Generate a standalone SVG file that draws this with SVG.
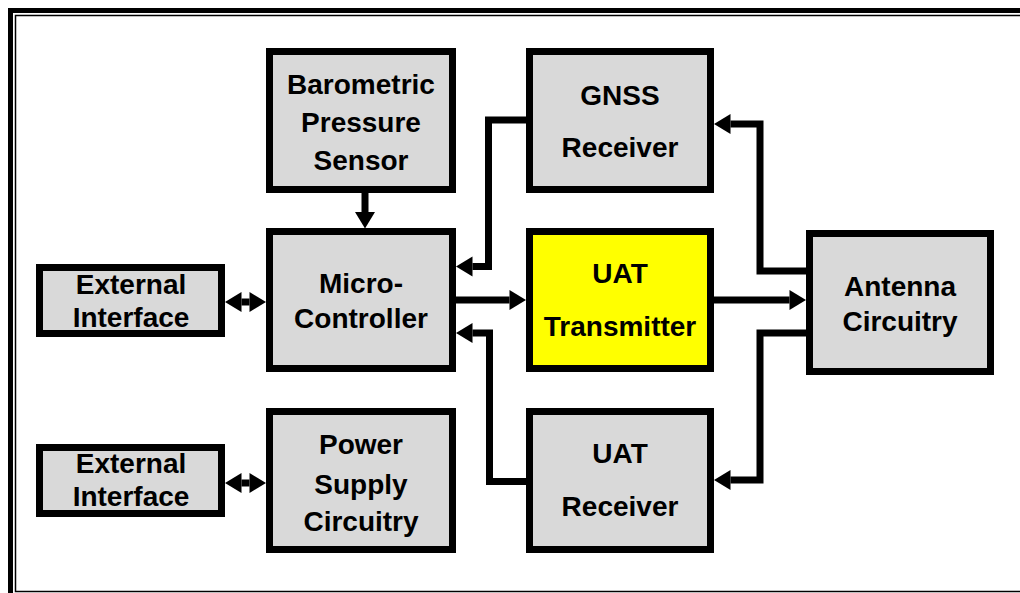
<svg xmlns="http://www.w3.org/2000/svg" width="1020" height="593" viewBox="0 0 1020 593">
<style>
.box{fill:#d9d9d9;stroke:#000;stroke-width:7}
.hl{fill:#ffff00}
.lbl{font-family:"Liberation Sans",Arial,sans-serif;font-weight:bold;font-size:28px;fill:#000;text-anchor:middle}
.con{fill:none;stroke:#000;stroke-width:7;stroke-linejoin:miter}
</style>
<defs>
<marker id="ah" markerUnits="userSpaceOnUse" markerWidth="17" markerHeight="20" refX="0" refY="10" orient="auto-start-reverse" overflow="visible">
<path d="M0,0 L16.5,10 L0,20 z" fill="#000"/>
</marker>
</defs>
<rect width="1020" height="593" fill="#fff"/>
<g id="frame">
<rect x="10.5" y="10.5" width="1030" height="600" fill="none" stroke="#000" stroke-width="5"/>
<rect x="15.5" y="15.5" width="1020" height="576" fill="none" stroke="#000" stroke-width="1.5"/>
</g>
<g id="connectors">
<path class="con" d="M365,193 V212" marker-end="url(#ah)"/>
<path class="con" d="M241.5,302 H249.5" marker-start="url(#ah)" marker-end="url(#ah)"/>
<path class="con" d="M241.5,483 H249.5" marker-start="url(#ah)" marker-end="url(#ah)"/>
<path class="con" d="M456,300 H509.5" marker-end="url(#ah)"/>
<path class="con" d="M714,300 H789.5" marker-end="url(#ah)"/>
<path class="con" d="M526,120 H488.5 V266.5 H472.5" marker-end="url(#ah)"/>
<path class="con" d="M526,481.5 H489.5 V333 H472.5" marker-end="url(#ah)"/>
<path class="con" d="M806,271 H760 V124 H730.5" marker-end="url(#ah)"/>
<path class="con" d="M806,333 H760 V480 H730.5" marker-end="url(#ah)"/>
</g>
<g id="baro">
<rect class="box" x="269.5" y="51.5" width="183" height="138"/>
<text class="lbl" x="361" y="94">Barometric</text>
<text class="lbl" x="361" y="132">Pressure</text>
<text class="lbl" x="361" y="170">Sensor</text>
</g>
<g id="gnss">
<rect class="box" x="529.5" y="51.5" width="181" height="138"/>
<text class="lbl" x="620" y="105">GNSS</text>
<text class="lbl" x="620" y="157">Receiver</text>
</g>
<g id="micro">
<rect class="box" x="269.5" y="231.5" width="183" height="137"/>
<text class="lbl" x="361" y="293">Micro-</text>
<text class="lbl" x="361" y="328">Controller</text>
</g>
<g id="uattx">
<rect class="box hl" x="529.5" y="231.5" width="181" height="137"/>
<text class="lbl" x="620" y="283">UAT</text>
<text class="lbl" x="620" y="336">Transmitter</text>
</g>
<g id="antenna">
<rect class="box" x="809.5" y="233.5" width="181" height="138"/>
<text class="lbl" x="900" y="296">Antenna</text>
<text class="lbl" x="900" y="331">Circuitry</text>
</g>
<g id="ext1">
<rect class="box" x="39.5" y="267.5" width="182" height="66"/>
<text class="lbl" x="131" y="294">External</text>
<text class="lbl" x="131" y="327">Interface</text>
</g>
<g id="ext2">
<rect class="box" x="39.5" y="447.5" width="182" height="66"/>
<text class="lbl" x="131" y="473">External</text>
<text class="lbl" x="131" y="506">Interface</text>
</g>
<g id="power">
<rect class="box" x="269.5" y="411.5" width="183" height="138"/>
<text class="lbl" x="361" y="454">Power</text>
<text class="lbl" x="361" y="494">Supply</text>
<text class="lbl" x="361" y="531">Circuitry</text>
</g>
<g id="uatrx">
<rect class="box" x="529.5" y="411.5" width="181" height="138"/>
<text class="lbl" x="620" y="463">UAT</text>
<text class="lbl" x="620" y="516">Receiver</text>
</g>
</svg>
